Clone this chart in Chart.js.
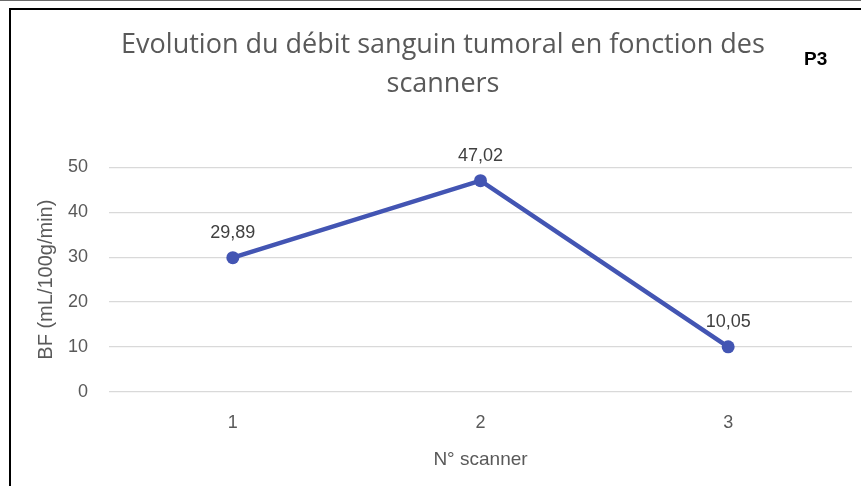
<!DOCTYPE html>
<html>
<head>
<meta charset="utf-8">
<script src="https://cdn.jsdelivr.net/npm/chart.js@4"></script>
<style>
  html, body { margin: 0; padding: 0; background: #ffffff; }
  #wrap { width: 861px; height: 486px; position: relative; }
</style>
</head>
<body>
<div id="wrap"><canvas id="c" width="861" height="486"></canvas></div>
<script>
// Scan numbers and tumour blood flow (mL/100g/min)
const scanners = ['1', '2', '3'];
const bloodFlow = [29.89, 47.02, 10.05];
const yTicks = [0, 10, 20, 30, 40, 50];

const titleLines = ['Evolution du débit sanguin tumoral en fonction des', 'scanners'];
const patientTag = 'P3';

const grey = '#595959';
const lineBlue = '#4355B3';
const sans = '"Liberation Sans", Arial, sans-serif';

// Frame lines, patient tag and value labels
const decorations = {
  id: 'decorations',
  beforeDraw(chart) {
    const ctx = chart.ctx;
    ctx.save();
    ctx.fillStyle = '#ffffff';
    ctx.fillRect(0, 0, chart.width, chart.height);
    ctx.restore();
  },
  afterDraw(chart) {
    const ctx = chart.ctx;
    ctx.save();
    // frame
    ctx.fillStyle = '#6b6b6b';
    ctx.fillRect(0, 0, chart.width, 1);
    ctx.fillStyle = '#000000';
    ctx.fillRect(9, 8, chart.width - 9, 2);
    ctx.fillRect(9, 8, 2, chart.height - 8);
    // patient tag
    ctx.font = 'bold 19px ' + sans;
    ctx.fillStyle = '#000000';
    ctx.textAlign = 'left';
    ctx.textBaseline = 'middle';
    ctx.fillText(patientTag, 804, 60);
    // value labels
    const meta = chart.getDatasetMeta(0);
    ctx.font = '18px ' + sans;
    ctx.fillStyle = '#404040';
    ctx.textAlign = 'center';
    ctx.textBaseline = 'middle';
    meta.data.forEach((pt, i) => {
      const txt = bloodFlow[i].toFixed(2).replace('.', ',');
      ctx.fillText(txt, pt.x, pt.y - 25);
    });
    ctx.restore();
  }
};

new Chart(document.getElementById('c'), {
  type: 'line',
  data: {
    labels: scanners,
    datasets: [{
      data: bloodFlow,
      borderColor: lineBlue,
      backgroundColor: lineBlue,
      borderWidth: 4.5,
      pointRadius: 6.5,
      pointHoverRadius: 6.5,
      pointBorderWidth: 0,
      tension: 0
    }]
  },
  options: {
    responsive: false,
    animation: false,
    events: [],
    layout: { padding: { left: 34, right: 9, top: 0, bottom: 0 } },
    plugins: {
      legend: { display: false },
      tooltip: { enabled: false },
      title: {
        display: true,
        text: titleLines,
        color: grey,
        font: { family: '"Open Sans", sans-serif', size: 27, weight: 'normal', lineHeight: 1.45 },
        padding: { top: 26, bottom: 63 }
      }
    },
    scales: {
      x: {
        offset: true,
        grid: { display: false, drawTicks: false },
        border: { display: false },
        ticks: { color: grey, font: { family: sans, size: 18 }, padding: 20 },
        title: {
          display: true,
          text: 'N° scanner',
          color: grey,
          font: { family: '"Liberation Sans Narrow", "Liberation Sans", sans-serif', size: 19 },
          padding: { top: 10, bottom: 15 }
        },
        afterFit(scale) { scale.height = 94; }
      },
      y: {
        min: 0,
        max: 50,
        afterBuildTicks(scale) { scale.ticks = yTicks.map(v => ({ value: v })); },
        grid: { color: '#d9d9d9', lineWidth: 1.3, drawTicks: false },
        border: { display: false },
        ticks: { color: grey, font: { family: sans, size: 18 }, padding: 21 },
        title: {
          display: true,
          text: 'BF (mL/100g/min)',
          color: grey,
          font: { family: sans, size: 20 },
          padding: { top: 0, bottom: 0 }
        },
        afterFit(scale) { scale.width = 75; }
      }
    }
  },
  plugins: [decorations]
});
</script>
</body>
</html>
